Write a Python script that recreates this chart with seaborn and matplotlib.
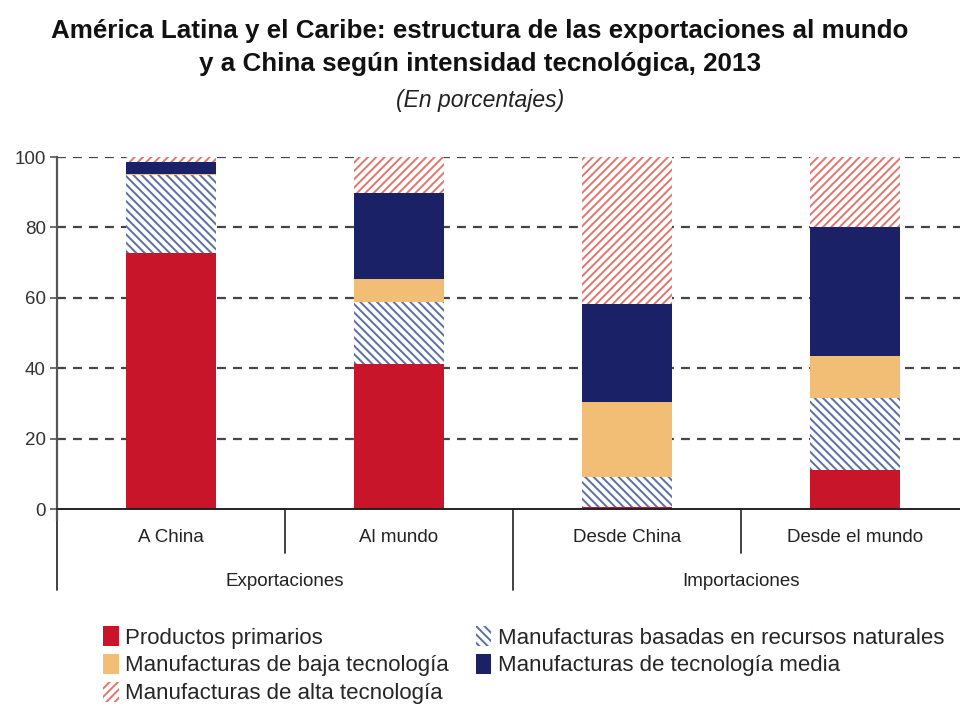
import matplotlib
matplotlib.use("Agg")
import matplotlib.pyplot as plt
import matplotlib.patches as mpatches
import numpy as np
import pandas as pd
import seaborn as sns

# --- data (percent shares) ---
categories = ["A China", "Al mundo", "Desde China", "Desde el mundo"]
groups = ["Exportaciones", "Importaciones"]
primarios = [72.6, 41.2, 0.7, 11.1]
recursos_naturales = [22.3, 17.7, 8.5, 20.3]
baja_tecnologia = [0.3, 6.4, 21.3, 12.1]
tecnologia_media = [3.3, 24.4, 27.7, 36.5]
alta_tecnologia = [1.5, 10.3, 41.8, 20.0]

series = [
    ("Productos primarios", primarios),
    ("Manufacturas basadas en recursos naturales", recursos_naturales),
    ("Manufacturas de baja tecnología", baja_tecnologia),
    ("Manufacturas de tecnología media", tecnologia_media),
    ("Manufacturas de alta tecnología", alta_tecnologia),
]

RED = "#c8152a"
BEIGE = "#f2bd75"
NAVY = "#1b2166"
HATCH_BLUE = "#5b6fa6"
HATCH_RED = "#e0766e"

# (facecolor, edge/hatch colour, hatch)
styles = {
    "Productos primarios": (RED, RED, None),
    "Manufacturas basadas en recursos naturales": ("white", HATCH_BLUE, "\\\\\\\\"),
    "Manufacturas de baja tecnología": (BEIGE, BEIGE, None),
    "Manufacturas de tecnología media": (NAVY, NAVY, None),
    "Manufacturas de alta tecnología": ("white", HATCH_RED, "////"),
}

sns.set_theme(style="white")
plt.rcParams["font.family"] = ["Liberation Sans Narrow", "Liberation Sans", "DejaVu Sans"]
plt.rcParams["hatch.linewidth"] = 1.4

fig = plt.figure(figsize=(9.6, 7.19), dpi=100)
ax = fig.add_axes([57 / 960, 210 / 719, 912 / 960, 352 / 719])

# cumulative stacks, drawn tallest first so lower layers sit on top
cum = np.cumsum([s[1] for s in series], axis=0)
for (name, _), top in reversed(list(zip(series, cum))):
    face, edge, hatch = styles[name]
    df = pd.DataFrame({"cat": categories, "val": top})
    sns.barplot(data=df, x="cat", y="val", ax=ax, color=face, width=0.395,
                saturation=1, zorder=3)
    for p in ax.patches[-len(categories):]:
        p.set_facecolor(face)
        p.set_edgecolor(edge)
        p.set_linewidth(0)
        if hatch:
            p.set_hatch(hatch)

ax.set_xlim(-0.5, 3.5)
ax.set_ylim(0, 100)
ax.set_yticks([0, 20, 40, 60, 80, 100])
ax.set_xlabel("")
ax.set_ylabel("")
ax.set_xticks([])

for y in [20, 40, 60, 80, 100]:
    ax.axhline(y, color="#444444", lw=1.6, ls=(0, (4, 3.2)), zorder=1)

for s in ["top", "right", "bottom"]:
    ax.spines[s].set_visible(False)
ax.spines["left"].set_color("#555555")
ax.spines["left"].set_linewidth(1.6)
ax.spines["left"].set_bounds(-3, 100)
ax.axhline(0, color="#222222", lw=1.4, zorder=4, clip_on=False)
ax.tick_params(axis="y", length=5, width=1.2, color="#555555", direction="out",
               labelsize=13.5, labelcolor="#333333", pad=3, left=True)

trans = ax.get_xaxis_transform()
# short separators between categories, long ones between groups
for x in [0.5, 2.5]:
    ax.plot([x, x], [0, -44 / 352], color="#333333", lw=1.3, transform=trans, clip_on=False)
for x in [-0.5, 1.5, 3.5]:
    ax.plot([x, x], [0, -81 / 352], color="#333333", lw=1.3, transform=trans, clip_on=False)
for i, c in enumerate(categories):
    ax.text(i, -29 / 352, c, transform=trans, ha="center", va="center",
            fontsize=13.5, color="#222222")
for i, g in enumerate(groups):
    ax.text(0.5 + 2 * i, -73 / 352, g, transform=trans, ha="center", va="center",
            fontsize=13.5, color="#222222")

fig.text(0.5, 1 - 31 / 719, "América Latina y el Caribe: estructura de las exportaciones al mundo",
         ha="center", va="center", fontsize=18.7, fontweight="bold", color="#111111")
fig.text(0.5, 1 - 64 / 719, "y a China según intensidad tecnológica, 2013",
         ha="center", va="center", fontsize=18.7, fontweight="bold", color="#111111")
fig.text(0.5, 1 - 100 / 719, "(En porcentajes)", ha="center", va="center",
         fontsize=16.5, style="italic", color="#222222")

order = [
    "Productos primarios",
    "Manufacturas de baja tecnología",
    "Manufacturas de alta tecnología",
    "Manufacturas basadas en recursos naturales",
    "Manufacturas de tecnología media",
]
handles = []
for name in order:
    face, edge, hatch = styles[name]
    handles.append(mpatches.Patch(facecolor=face, edgecolor=edge, linewidth=0,
                                  hatch=hatch, label=name))
fig.legend(handles=handles, ncol=2, loc="upper left", bbox_to_anchor=(103 / 960, 1 - 626 / 719),
           frameon=False, fontsize=16, handlelength=0.7, handleheight=1.0,
           handletextpad=0.3, columnspacing=1.2, labelspacing=0.24, borderaxespad=0,
           borderpad=0)

fig.savefig("out.png", dpi=100)
